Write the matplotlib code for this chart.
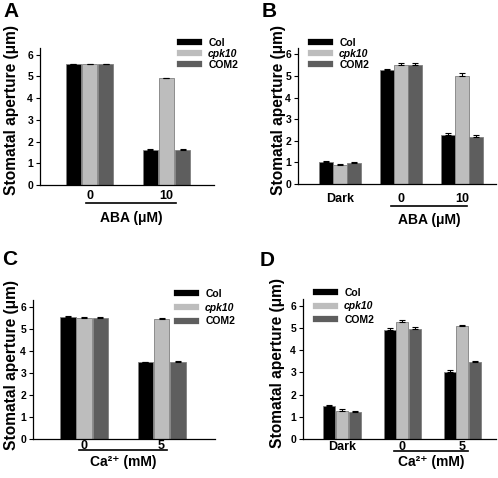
import numpy as np
import matplotlib
matplotlib.use("Agg")
from matplotlib import pyplot as plt
from matplotlib.lines import Line2D
from matplotlib.transforms import blended_transform_factory

plt.rcParams['font.family'] = ['Liberation Sans', 'DejaVu Sans']
plt.rcParams['font.weight'] = 'bold'

W, H = 498, 478

series = ['Col', 'cpk10', 'COM2']
colors = ['#000000', '#bdbdbd', '#5e5e5e']

# panel A
a_groups = ['0', '10']
a_col = [5.55, 1.63]
a_cpk = [5.55, 4.90]
a_com = [5.55, 1.62]
a_col_err = [0.03, 0.03]
a_cpk_err = [0.03, 0.03]
a_com_err = [0.03, 0.03]

# panel B
b_groups = ['Dark', '0', '10']
b_col = [1.00, 5.28, 2.28]
b_cpk = [0.87, 5.50, 5.00]
b_com = [0.95, 5.50, 2.17]
b_col_err = [0.05, 0.07, 0.10]
b_cpk_err = [0.07, 0.10, 0.15]
b_com_err = [0.07, 0.10, 0.08]

# panel C
c_groups = ['0', '5']
c_col = [5.52, 3.47]
c_cpk = [5.47, 5.45]
c_com = [5.50, 3.50]
c_col_err = [0.04, 0.03]
c_cpk_err = [0.04, 0.03]
c_com_err = [0.05, 0.04]

# panel D
d_groups = ['Dark', '0', '5']
d_col = [1.47, 4.92, 3.03]
d_cpk = [1.28, 5.27, 5.07]
d_com = [1.20, 4.97, 3.45]
d_col_err = [0.05, 0.08, 0.08]
d_cpk_err = [0.06, 0.07, 0.05]
d_com_err = [0.04, 0.06, 0.08]

fig = plt.figure(figsize=(W / 100, H / 100), dpi=100)


def add_axes_px(left, top, right, bottom):
    return fig.add_axes([left / W, 1 - bottom / H, (right - left) / W, (bottom - top) / H])


def panel(box, groups, vals, errs, xlim, width, tickpad, letter, letter_xy,
          ylab_xy, leg_xy, leg_spacing, line_x, line_y, cond, cond_y):
    ax = add_axes_px(*box)
    x = np.arange(len(groups))
    for i, (v, e) in enumerate(zip(vals, errs)):
        xi = x + (i - 1) * width * 1.05
        ax.bar(xi, v, width, color=colors[i], edgecolor='#808080', linewidth=0.6, zorder=2)
        ax.errorbar(xi, v, yerr=[np.zeros(len(e)), e], fmt='none', ecolor='black',
                    elinewidth=0.8, capsize=2, capthick=0.8, zorder=3)
    ax.set_xlim(*xlim)
    ax.set_ylim(0, 6.3)
    ax.set_yticks(range(7))
    ax.set_xticks(x)
    ax.set_xticklabels(groups, fontsize=9, fontweight='bold')
    ax.tick_params(axis='x', length=0, pad=tickpad)
    ax.tick_params(axis='y', length=3, width=0.8, labelsize=7.5, pad=2)
    for t in ax.get_yticklabels():
        t.set_fontweight('bold')
    for s in ['top', 'right']:
        ax.spines[s].set_visible(False)
    for s in ['left', 'bottom']:
        ax.spines[s].set_linewidth(0.9)

    fig.text(letter_xy[0] / W, 1 - letter_xy[1] / H, letter, fontsize=15,
             fontweight='bold', ha='left', va='top')
    fig.text(ylab_xy[0] / W, 1 - ylab_xy[1] / H, 'Stomatal aperture (\u03bcm)',
             fontsize=11.2, fontweight='bold', rotation=90, ha='center', va='center')

    handles = [Line2D([], [], color=c, lw=4.5) for c in colors]
    leg = ax.legend(handles, series, loc='upper left',
                    bbox_to_anchor=(leg_xy[0] / W, 1 - leg_xy[1] / H),
                    bbox_transform=fig.transFigure, frameon=False,
                    fontsize=7.5, handlelength=1.8, handletextpad=0.9,
                    labelspacing=leg_spacing, borderpad=0, borderaxespad=0)
    for t in leg.get_texts():
        t.set_fontweight('bold')
        if t.get_text() == 'cpk10':
            t.set_fontstyle('italic')

    tr = blended_transform_factory(ax.transData, fig.transFigure)
    ax.plot(line_x, [1 - line_y / H] * 2, color='black', lw=1.2,
            transform=tr, clip_on=False)
    ax.text(sum(line_x) / 2, 1 - cond_y / H, cond, transform=tr, fontsize=10,
            fontweight='bold', ha='center', va='center')
    return ax


panel((40, 48, 214, 185), a_groups, [a_col, a_cpk, a_com],
      [a_col_err, a_cpk_err, a_com_err], (-0.643, 1.617), 0.2, 3.6,
      'A', (3, 2), (12, 110), (180, 38), 0.1, (-0.04, 1.12), 203,
      'ABA (\u03bcM)', 218)

panel((298, 48, 496, 184), b_groups, [b_col, b_cpk, b_com],
      [b_col_err, b_cpk_err, b_com_err], (-0.69, 2.56), 0.22, 6.5,
      'B', (262, 2), (278, 110), (311, 38), 0.1, (0.84, 2.08), 206,
      'ABA (\u03bcM)', 220)

panel((33, 300, 215, 439), c_groups, [c_col, c_cpk, c_com],
      [c_col_err, c_cpk_err, c_com_err], (-0.66, 1.69), 0.2, 0.5,
      'C', (2, 250), (12, 365), (177, 289), 0.35, (-0.065, 1.07), 450,
      'Ca\u00b2\u207a (mM)', 462)

panel((303, 299, 496, 439), d_groups, [d_col, d_cpk, d_com],
      [d_col_err, d_cpk_err, d_com_err], (-0.65, 2.56), 0.2, 1.5,
      'D', (260, 251), (277, 363), (316, 288), 0.33, (0.87, 2.1), 451,
      'Ca\u00b2\u207a (mM)', 462)

fig.savefig('out.png', dpi=100)
